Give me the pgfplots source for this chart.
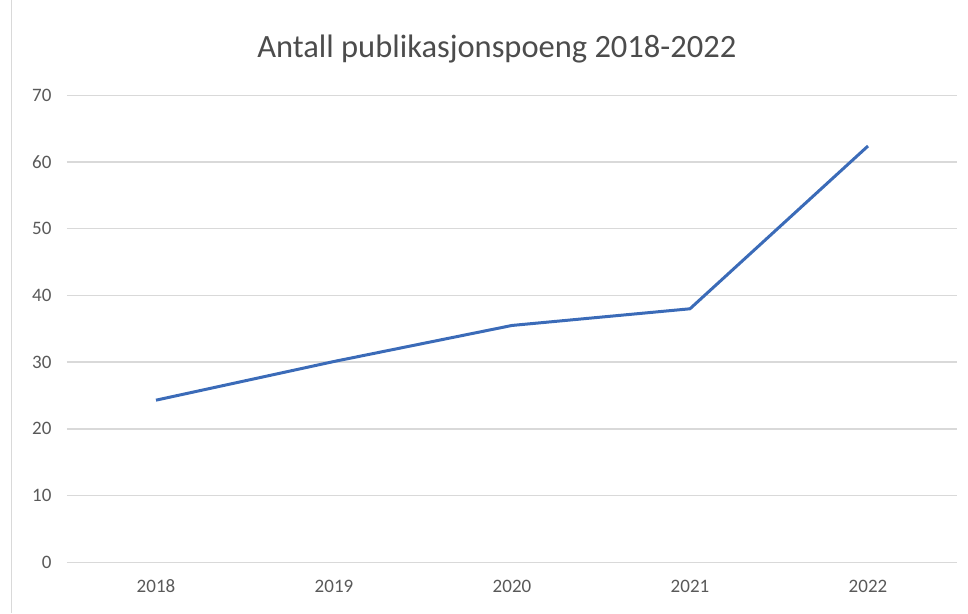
\documentclass[border=0pt]{standalone}
\usepackage{fontspec}
\setmainfont{Carlito}
\usepackage{pgfplots}
\pgfplotsset{compat=1.18}
\definecolor{serieblue}{HTML}{3B6BB8}
\definecolor{gridgray}{HTML}{D9D9D9}
\definecolor{labelgray}{HTML}{595959}
\begin{document}
\begin{tikzpicture}
\begin{axis}[
  scale only axis,
  width=890bp, height=467bp,
  xmin=-0.5, xmax=4.5,
  ymin=0, ymax=70,
  xtick={0,1,2,3,4},
  xticklabels={2018,2019,2020,2021,2022},
  ytick={0,10,...,70},
  ymajorgrids,
  major grid style={gridgray, line width=1.4bp},
  axis line style={draw=none},
  major tick length=0pt,
  tick label style={font=\fontsize{19bp}{22bp}\selectfont, text=labelgray},
  /pgf/number format/assume math mode=true,
  xticklabel style={yshift=-14bp},
  yticklabel style={xshift=-12bp},
  clip=false,
]
\addplot[serieblue, line width=3bp, line join=round] coordinates {
  (0,24.3) (1,30.1) (2,35.5) (3,38.0) (4,62.4)
};
\node[anchor=base, font=\fontsize{32.5bp}{38bp}\selectfont, text=labelgray!85!black]
  at (rel axis cs:0.483,1.081) {Antall publikasjonspoeng 2018-2022};
\draw[gridgray, line width=1bp] (rel axis cs:-0.0618,-0.109) -- (rel axis cs:-0.0618,1.203);
\end{axis}
\path[use as bounding box] ([xshift=-67bp,yshift=-51bp]current axis.south west)
  rectangle ([xshift=11bp,yshift=95bp]current axis.north east);
\end{tikzpicture}
\end{document}
